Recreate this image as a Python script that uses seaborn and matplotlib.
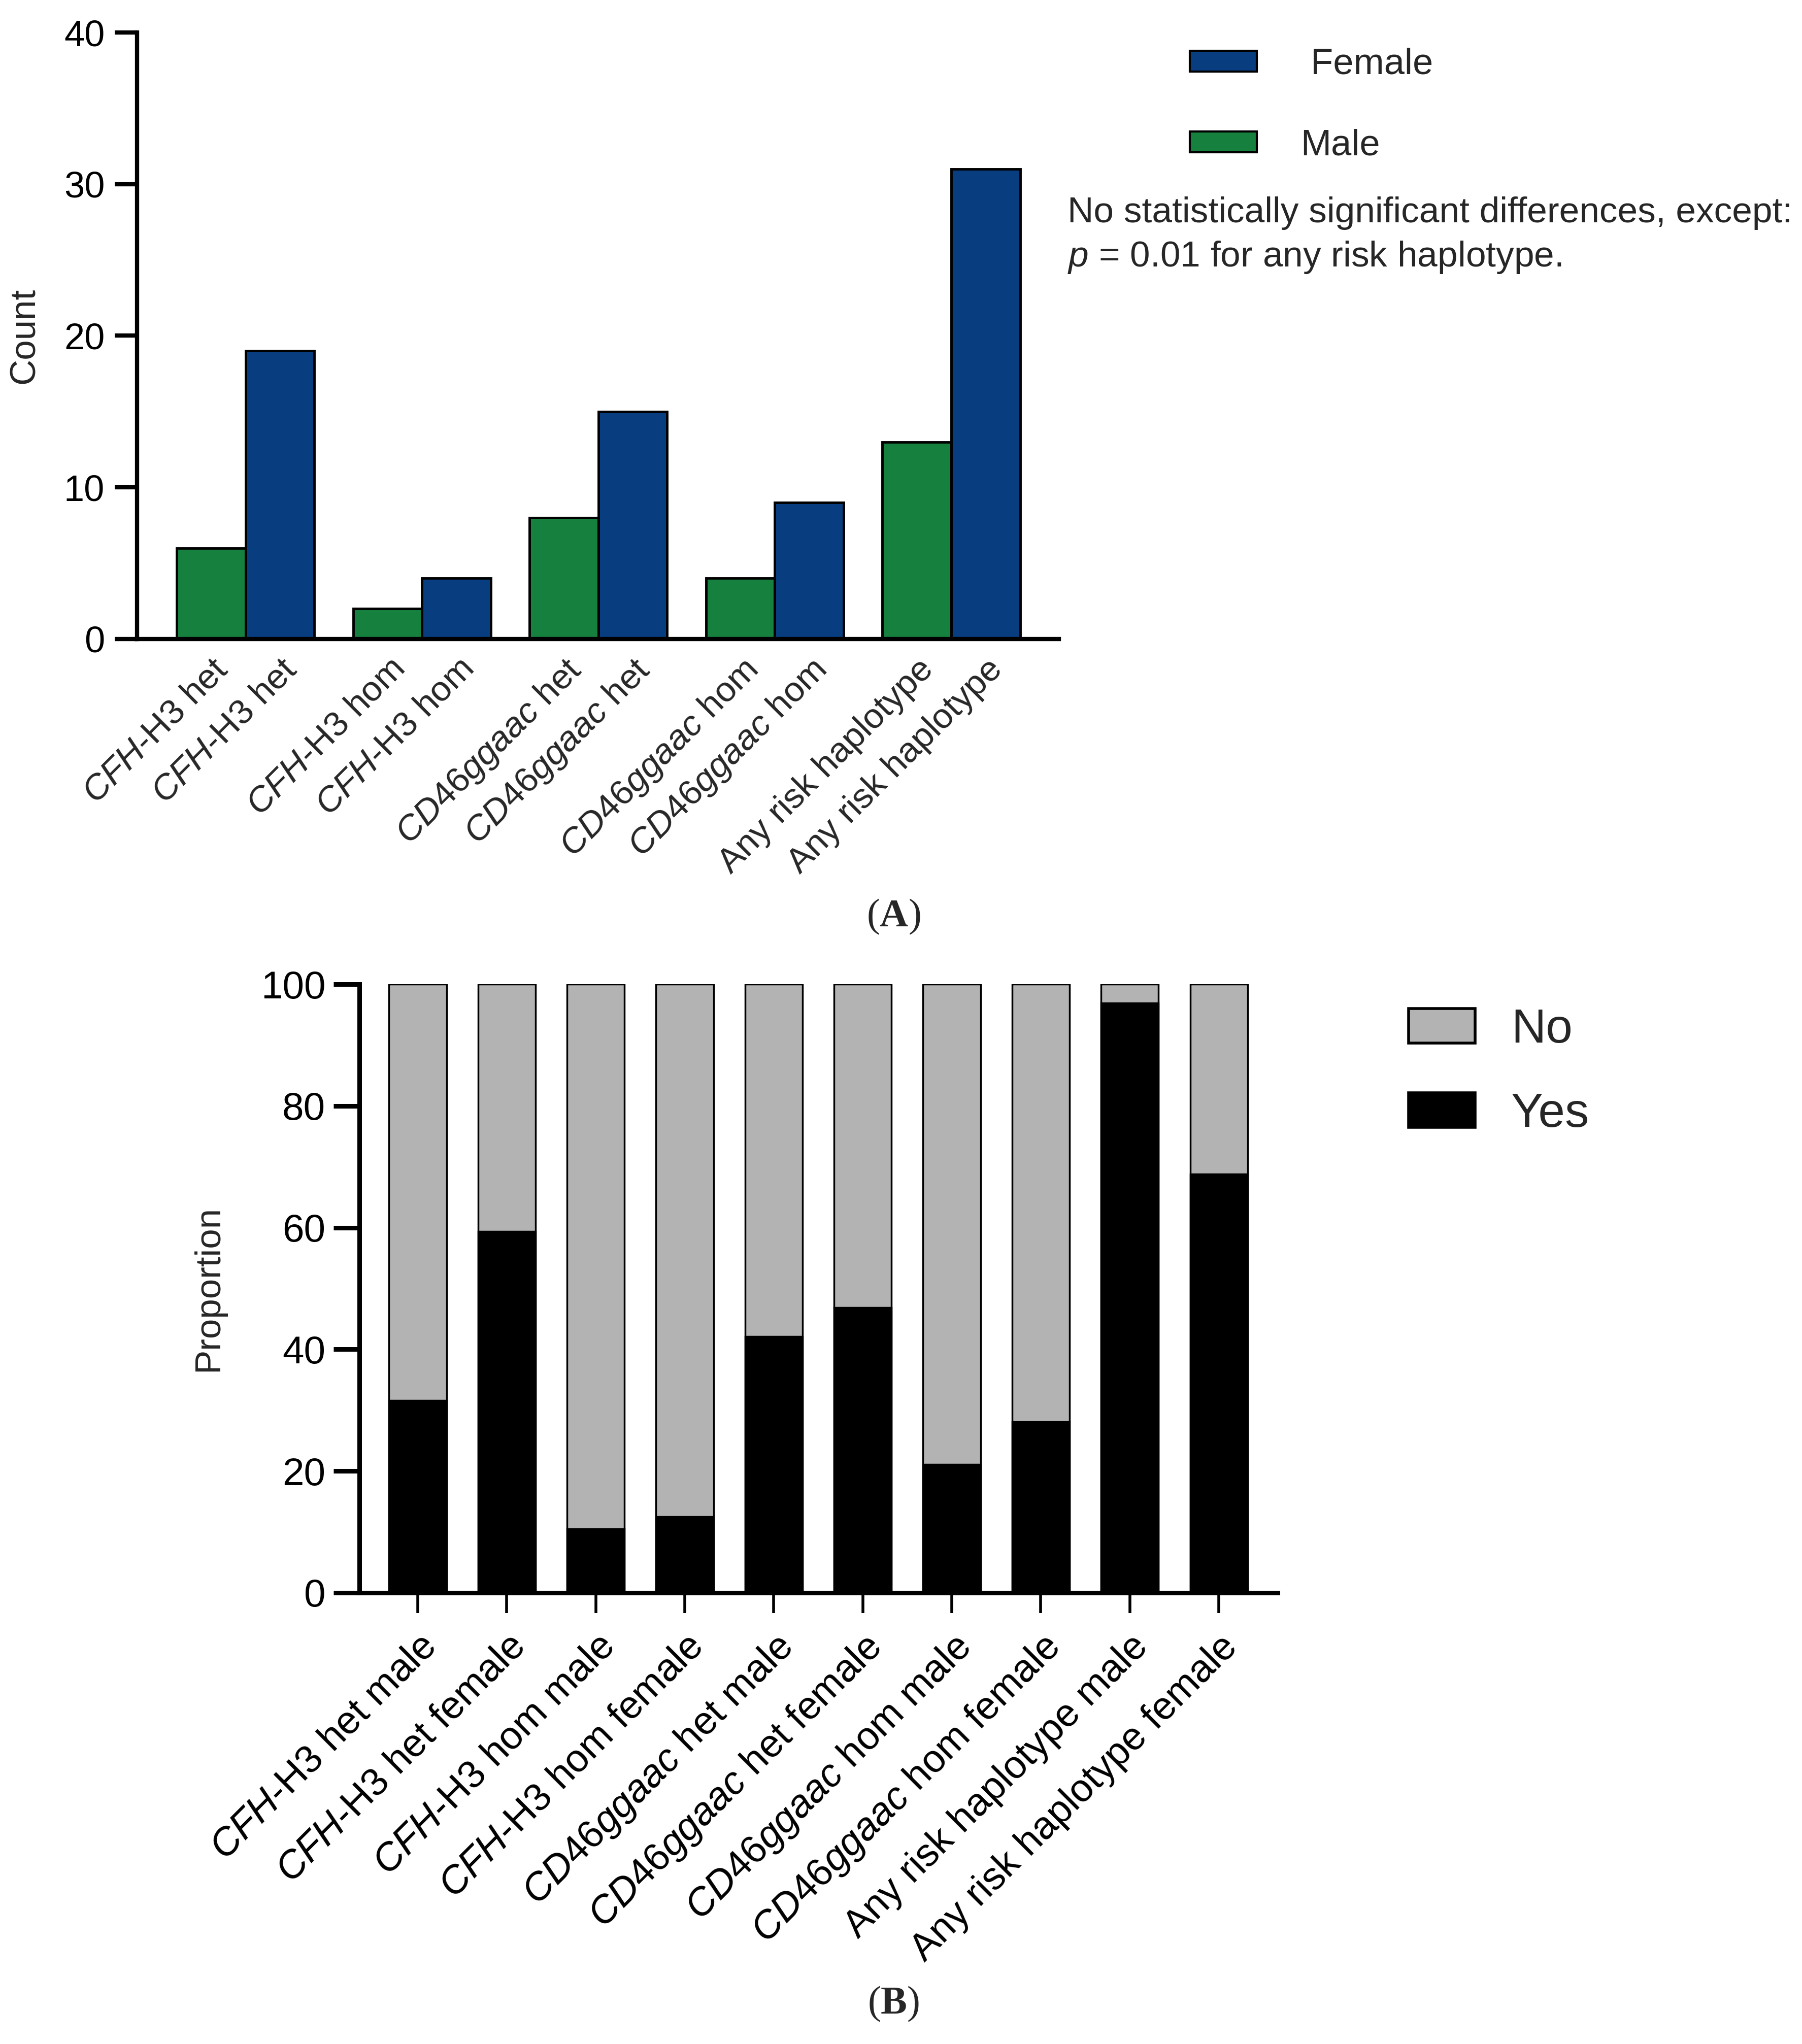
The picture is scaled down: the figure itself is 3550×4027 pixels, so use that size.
import numpy as np
import pandas as pd
import seaborn as sns
import matplotlib.pyplot as plt
from matplotlib.patches import Patch

# Panel A: counts by genotype and sex
genotypes = ["CFH-H3 het", "CFH-H3 hom", "CD46ggaac het", "CD46ggaac hom", "Any risk haplotype"]
male_counts = [6, 2, 8, 4, 13]
female_counts = [19, 4, 15, 9, 31]
labels_a = [
    r"$\mathit{CFH}$-H3 het", r"$\mathit{CFH}$-H3 het",
    r"$\mathit{CFH}$-H3 hom", r"$\mathit{CFH}$-H3 hom",
    r"$\mathit{CD46ggaac}$ het", r"$\mathit{CD46ggaac}$ het",
    r"$\mathit{CD46ggaac}$ hom", r"$\mathit{CD46ggaac}$ hom",
    "Any risk haplotype", "Any risk haplotype",
]

# Panel B: proportion yes / no
groups_b = ["CFH-H3 het male", "CFH-H3 het female", "CFH-H3 hom male", "CFH-H3 hom female",
            "CD46ggaac het male", "CD46ggaac het female", "CD46ggaac hom male",
            "CD46ggaac hom female", "Any risk haplotype male", "Any risk haplotype female"]
yes_pct = [31.6, 59.4, 10.5, 12.5, 42.1, 46.9, 21.1, 28.1, 96.9, 68.8]
no_pct = [68.4, 40.6, 89.5, 87.5, 57.9, 53.1, 78.9, 71.9, 3.1, 31.2]
labels_b = [
    r"$\mathit{CFH}$-H3 het male", r"$\mathit{CFH}$-H3 het female",
    r"$\mathit{CFH}$-H3 hom male", r"$\mathit{CFH}$-H3 hom female",
    r"$\mathit{CD46ggaac}$ het male", r"$\mathit{CD46ggaac}$ het female",
    r"$\mathit{CD46ggaac}$ hom male", r"$\mathit{CD46ggaac}$ hom female",
    "Any risk haplotype male", "Any risk haplotype female",
]

GREEN = "#16803e"
BLUE = "#083d80"
GREY = "#b3b3b3"

sns.set_theme(style="white")
plt.rcParams["font.family"] = ["Liberation Sans", "DejaVu Sans"]
plt.rcParams["mathtext.fontset"] = "custom"
plt.rcParams["mathtext.rm"] = "Liberation Sans"
plt.rcParams["mathtext.it"] = "Liberation Sans:italic"
plt.rcParams["mathtext.bf"] = "Liberation Serif:bold"

fig = plt.figure(figsize=(35.5, 40.27), dpi=100)

# ---------- Panel A ----------
ax1 = fig.add_axes([0.0761, 0.6874, 0.5115, 0.2967])
df_a = pd.DataFrame({
    "genotype": genotypes * 2,
    "sex": ["Male"] * 5 + ["Female"] * 5,
    "count": male_counts + female_counts,
})
sns.barplot(data=df_a, x="genotype", y="count", hue="sex", order=genotypes,
            hue_order=["Male", "Female"], palette={"Male": GREEN, "Female": BLUE},
            width=0.78, edgecolor="black", linewidth=3.5, saturation=1,
            legend=False, ax=ax1)
# one tick label under every bar
centers = sorted(p.get_x() + p.get_width() / 2 for p in ax1.patches)
ax1.set_xticks(centers)
ax1.set_xticklabels(labels_a, rotation=45, ha="right", rotation_mode="anchor", fontsize=50)
ax1.set_xlim(-0.615, 4.61)
ax1.set_ylim(0, 40)
ax1.set_yticks([0, 10, 20, 30, 40])
ax1.set_xlabel("")
ax1.set_ylabel("Count", fontsize=51)
ax1.yaxis.set_label_coords(-0.1035, 0.5)
sns.despine(ax=ax1)
for s in ["left", "bottom"]:
    ax1.spines[s].set_linewidth(6)
    ax1.spines[s].set_color("black")
ax1.tick_params(axis="y", length=32, width=6, pad=14, labelsize=52, colors="black", left=True)
ax1.tick_params(axis="x", length=0, pad=20)

leg_a = [Patch(facecolor=BLUE, edgecolor="black", linewidth=3, label=" Female"),
         Patch(facecolor=GREEN, edgecolor="black", linewidth=3, label="Male")]
fig.legend(handles=leg_a, loc="upper left", bbox_to_anchor=(0.6603, 0.9767),
           frameon=False, fontsize=52, handlelength=1.82, handleheight=0.5,
           handletextpad=1.2, labelspacing=1.28, borderpad=0, borderaxespad=0)

fig.text(2103 / 3550, 1 - 420 / 4027, "No statistically significant differences, except:",
         fontsize=51.3, va="center", ha="left")
fig.text(2103 / 3550, 1 - 507 / 4027, r"$\mathit{p}$ = 0.01 for any risk haplotype.",
         fontsize=51.3, va="center", ha="left")

fig.text(1760 / 3550, 1 - 1806 / 4027, r"($\mathbf{A}$)", fontsize=56,
         family="Liberation Serif", ha="center", va="center")

# ---------- Panel B ----------
ax2 = fig.add_axes([0.1994, 0.2208, 0.5096, 0.2977])
df_b = pd.DataFrame({"group": groups_b, "yes": yes_pct, "no": no_pct})
df_b["total"] = df_b["yes"] + df_b["no"]
sns.barplot(data=df_b, x="group", y="total", color=GREY, saturation=1, width=0.646,
            edgecolor="black", linewidth=2.5, ax=ax2)
sns.barplot(data=df_b, x="group", y="yes", color="black", saturation=1, width=0.646,
            edgecolor="black", linewidth=2.5, ax=ax2)
ax2.set_xticks(range(len(groups_b)))
ax2.set_xticklabels(labels_b, rotation=45, ha="right", rotation_mode="anchor", fontsize=55)
ax2.set_xlim(-0.656, 9.66)
ax2.set_ylim(0, 100)
ax2.set_yticks([0, 20, 40, 60, 80, 100])
ax2.set_xlabel("")
ax2.set_ylabel("Proportion", fontsize=51)
ax2.yaxis.set_label_coords(-0.146, 0.5)
sns.despine(ax=ax2)
for s in ["left", "bottom"]:
    ax2.spines[s].set_linewidth(6.5)
    ax2.spines[s].set_color("black")
ax2.tick_params(axis="y", length=37, width=6.5, pad=11, labelsize=55, colors="black", left=True)
ax2.tick_params(axis="x", length=29, width=4, pad=22, colors="black", bottom=True)

leg_b = [Patch(facecolor=GREY, edgecolor="black", linewidth=4, label="No"),
         Patch(facecolor="black", edgecolor="black", linewidth=4, label="Yes")]
fig.legend(handles=leg_b, loc="upper left", bbox_to_anchor=(0.7817, 0.5071),
           frameon=False, fontsize=68, handlelength=1.39, handleheight=0.73,
           handletextpad=0.75, labelspacing=0.82, borderpad=0, borderaxespad=0)

fig.text(1760 / 3550, 1 - 3948 / 4027, r"($\mathbf{B}$)", fontsize=56,
         family="Liberation Serif", ha="center", va="center")

fig.savefig("out.png", dpi=100, facecolor="white")
